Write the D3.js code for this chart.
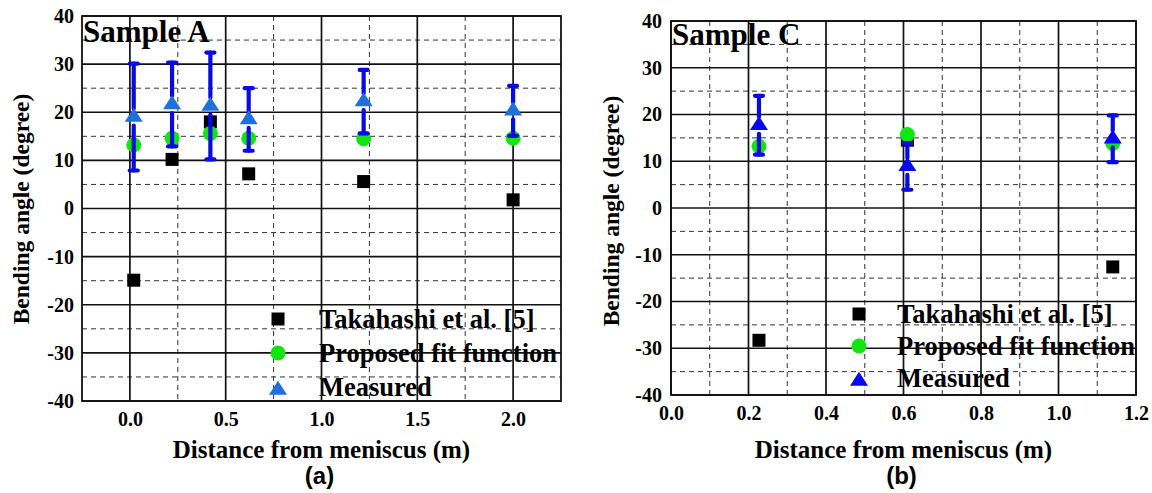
<!DOCTYPE html>
<html>
<head>
<meta charset="utf-8">
<script src="https://cdn.jsdelivr.net/npm/d3@7"></script>
<style>
  body { margin: 0; background: #fff; }
  svg text { font-family: "Liberation Serif", "Times New Roman", serif; font-weight: bold; fill: #000; }
  .tag { font-family: "Liberation Sans", Arial, sans-serif; }
</style>
</head>
<body>
<svg id="chart" width="1152" height="493"></svg>
<script>
// ---- data ----
var seriesNames = ["Takahashi et al. [5]", "Proposed fit function", "Measured"];
var yTicks = [-40, -30, -20, -10, 0, 10, 20, 30, 40];

// Sample A (panel a)
var distA      = [0.02, 0.22, 0.42, 0.62, 1.22, 2.0];
var takahashiA = [-14.9, 10.2, 18.0, 7.2, 5.6, 1.8];
var fitA       = [13.2, 14.6, 15.6, 14.6, 14.5, 14.6];
var measuredA  = [19.0, 21.6, 21.3, 18.5, 22.2, 20.3];
var errorA     = [11.1, 8.7, 11.1, 6.5, 6.6, 5.2];
var xTicksA    = [0, 0.5, 1.0, 1.5, 2.0];

// Sample C (panel b)
var distC      = [0.227, 0.61, 1.14];
var takahashiC = [-28.3, 14.5, -12.6];
var fitC       = [13.2, 15.7, 13.8];
var measuredC  = [17.7, 8.9, 14.8];
var errorC     = [6.3, 5.0, 5.0];
var xTicksC    = [0, 0.2, 0.4, 0.6, 0.8, 1.0, 1.2];

var svg = d3.select("#chart");

var panels = [
  { label: "Sample A", tag: "(a)", dist: distA, tak: takahashiA, fit: fitA, meas: measuredA, err: errorA,
    xDomain: [-0.25, 2.25], xTicks: xTicksA, box: {l: 82, t: 16, r: 561, b: 401},
    triColor: "#1f6fdc", labelY: 42,
    legend: {x: 278, y: 319, dy: 34, tx: 319},
    yTitle: {x: 29, y: 209}, yPad: 8 },
  { label: "Sample C", tag: "(b)", dist: distC, tak: takahashiC, fit: fitC, meas: measuredC, err: errorC,
    xDomain: [0, 1.2], xTicks: xTicksC, box: {l: 671, t: 21, r: 1136, b: 395},
    triColor: "#0808f2", labelY: 45,
    legend: {x: 859, y: 314, dy: 32, tx: 897},
    yTitle: {x: 619, y: 211}, yPad: 9 }
];

var green = "#12e612", errBlue = "#0a0ae8";
var triW = 18, triH = 14, sq = 13, circR = 7.5, gap = 8.5, capW = 12;

// triangle with its centroid on (cx, cy)
function triPath(cx, cy) {
  return "M" + cx + "," + (cy - 2 * triH / 3) +
         "L" + (cx + triW / 2) + "," + (cy + triH / 3) +
         "L" + (cx - triW / 2) + "," + (cy + triH / 3) + "Z";
}

// midpoints between neighbouring ticks -> dashed minor grid
function mids(arr) {
  var out = [];
  for (var i = 0; i < arr.length - 1; i++) out.push((arr[i] + arr[i + 1]) / 2);
  return out;
}

panels.forEach(function(p) {
  var b = p.box;
  var x = d3.scaleLinear().domain(p.xDomain).range([b.l, b.r]);
  var y = d3.scaleLinear().domain([-40, 40]).range([b.b, b.t]);
  var g = svg.append("g");

  // minor dashed grid
  g.selectAll(".vminor").data(mids(p.xTicks)).enter().append("line")
    .attr("x1", d => x(d)).attr("x2", d => x(d)).attr("y1", b.t).attr("y2", b.b)
    .style("stroke", "#333").style("stroke-width", 1).style("stroke-dasharray", "5,4");
  g.selectAll(".hminor").data(mids(yTicks)).enter().append("line")
    .attr("x1", b.l).attr("x2", b.r).attr("y1", d => y(d)).attr("y2", d => y(d))
    .style("stroke", "#333").style("stroke-width", 1).style("stroke-dasharray", "5,4");

  // major solid grid
  g.selectAll(".vmajor").data(p.xTicks).enter().append("line")
    .attr("x1", d => x(d)).attr("x2", d => x(d)).attr("y1", b.t).attr("y2", b.b)
    .style("stroke", "#111").style("stroke-width", 1.7);
  g.selectAll(".hmajor").data(yTicks).enter().append("line")
    .attr("x1", b.l).attr("x2", b.r).attr("y1", d => y(d)).attr("y2", d => y(d))
    .style("stroke", "#111").style("stroke-width", 1.7);

  // frame
  g.append("rect").attr("x", b.l).attr("y", b.t).attr("width", b.r - b.l).attr("height", b.b - b.t)
    .style("fill", "none").style("stroke", "#111").style("stroke-width", 1.8);

  // axes (labels only, grid does the ticks)
  var ax = g.append("g").attr("transform", "translate(0," + b.b + ")")
    .call(d3.axisBottom(x).tickValues(p.xTicks).tickFormat(d3.format(".1f")).tickSize(0).tickPadding(11));
  var ay = g.append("g").attr("transform", "translate(" + b.l + ",0)")
    .call(d3.axisLeft(y).tickValues(yTicks).tickFormat(d => d < 0 ? "-" + Math.abs(d) : d).tickSize(0).tickPadding(p.yPad));
  [ax, ay].forEach(function(a) {
    a.select(".domain").remove();
    a.selectAll("text").style("font-size", "20px").style("font-family", "'Liberation Serif', serif").style("font-weight", "bold");
  });

  // titles
  g.append("text").attr("x", (b.l + b.r) / 2).attr("y", 458).style("text-anchor", "middle")
    .style("font-size", "25px").text("Distance from meniscus (m)");
  g.append("text").attr("transform", "translate(" + p.yTitle.x + "," + p.yTitle.y + ") rotate(-90)")
    .style("text-anchor", "middle").style("font-size", "23.5px").text("Bending angle (degree)");
  g.append("text").attr("class", "tag").attr("x", (b.l + b.r) / 2 - 2).attr("y", 484)
    .style("text-anchor", "middle").style("font-size", "24px").text(p.tag);
  g.append("text").attr("x", b.l + 1).attr("y", p.labelY).style("font-size", "31px").text(p.label);

  // legend
  var L = p.legend;
  g.append("rect").attr("x", L.x - sq / 2).attr("y", L.y - sq / 2).attr("width", sq).attr("height", sq).style("fill", "#000");
  g.append("circle").attr("cx", L.x).attr("cy", L.y + L.dy).attr("r", circR).style("fill", green);
  g.append("path").attr("d", triPath(L.x, L.y + 2 * L.dy + 3)).style("fill", p.triColor);
  seriesNames.forEach(function(name, i) {
    g.append("text").attr("x", L.tx).attr("y", L.y + i * L.dy + 9).style("font-size", "26.5px").text(name);
  });

  // Takahashi squares
  g.selectAll(".sq").data(p.dist).enter().append("rect")
    .attr("x", d => x(d) - sq / 2).attr("y", (d, i) => y(p.tak[i]) - sq / 2)
    .attr("width", sq).attr("height", sq).style("fill", "#000");

  // fit circles
  g.selectAll(".fit").data(p.dist).enter().append("circle")
    .attr("cx", d => x(d)).attr("cy", (d, i) => y(p.fit[i])).attr("r", circR).style("fill", green);

  // error bars with a gap round the symbol
  p.dist.forEach(function(d, i) {
    var cx = x(d), cy = y(p.meas[i]), top = y(p.meas[i] + p.err[i]), bot = y(p.meas[i] - p.err[i]);
    var e = g.append("g").style("stroke", errBlue).style("stroke-width", 4.2).style("stroke-linecap", "round");
    e.append("line").attr("x1", cx).attr("x2", cx).attr("y1", top).attr("y2", cy - gap);
    e.append("line").attr("x1", cx).attr("x2", cx).attr("y1", cy + gap).attr("y2", bot);
    e.append("line").attr("x1", cx - capW / 2 + 2).attr("x2", cx + capW / 2 - 2).attr("y1", top).attr("y2", top);
    e.append("line").attr("x1", cx - capW / 2 + 2).attr("x2", cx + capW / 2 - 2).attr("y1", bot).attr("y2", bot);
  });

  // measured triangles
  g.selectAll(".tri").data(p.dist).enter().append("path")
    .attr("d", (d, i) => triPath(x(d), y(p.meas[i]))).style("fill", p.triColor);
});
</script>
</body>
</html>
